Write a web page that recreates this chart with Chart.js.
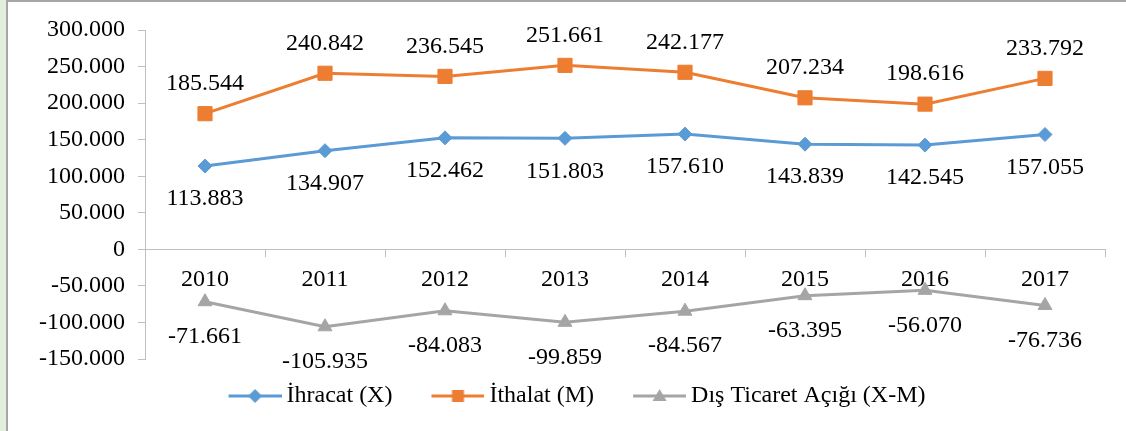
<!DOCTYPE html>
<html>
<head>
<meta charset="utf-8">
<script src="https://cdn.jsdelivr.net/npm/chart.js@4/dist/chart.umd.min.js"></script>
<style>
  html, body { margin: 0; padding: 0; background: #ffffff; }
  #wrap { position: relative; width: 1126px; height: 431px; overflow: hidden; }
  .green { position: absolute; left: 0; top: 0; width: 6px; height: 431px; background: #e2efda; }
  .vline { position: absolute; left: 6px; top: 0; width: 2px; height: 431px; background: #a6a6a6; }
  .hline { position: absolute; left: 6px; top: 0; width: 1120px; height: 2px; background: #a6a6a6; }
  canvas { position: absolute; left: 0; top: 0; }
</style>
</head>
<body>
<div id="wrap">
  <div class="green"></div>
  <div class="vline"></div>
  <div class="hline"></div>
  <canvas id="c" width="1126" height="431"></canvas>
</div>
<script>
const categories = ['2010', '2011', '2012', '2013', '2014', '2015', '2016', '2017'];
const ihracat = [113883, 134907, 152462, 151803, 157610, 143839, 142545, 157055];
const ithalat = [185544, 240842, 236545, 251661, 242177, 207234, 198616, 233792];
const acik = [-71661, -105935, -84083, -99859, -84567, -63395, -56070, -76736];
const seriesNames = ['İhracat (X)', 'İthalat (M)', 'Dış Ticaret Açığı (X-M)'];
const yTicks = [300000, 250000, 200000, 150000, 100000, 50000, 0, -50000, -100000, -150000];

const BLUE = '#5b9bd5', ORANGE = '#ed7d31', GRAY = '#a5a5a5';
const FONT = "'Liberation Serif', 'Times New Roman', serif";

function fmt(v) {
  const neg = v < 0;
  let s = String(Math.abs(Math.round(v)));
  s = s.replace(/\B(?=(\d{3})+(?!\d))/g, '.');
  return (neg ? '-' : '') + s;
}

// legend marker images (line + marker)
function legendImg(color, kind) {
  const W = 89, H = 18;
  const cv = document.createElement('canvas');
  cv.width = W; cv.height = H;
  const g = cv.getContext('2d');
  const x0 = 36, x1 = 89, cy = H / 2, cx = (x0 + x1) / 2;
  g.strokeStyle = color; g.lineWidth = 3;
  g.beginPath(); g.moveTo(x0, cy); g.lineTo(x1, cy); g.stroke();
  g.fillStyle = color;
  g.beginPath();
  if (kind === 'diamond') {
    g.moveTo(cx, cy - 7); g.lineTo(cx + 7, cy); g.lineTo(cx, cy + 7); g.lineTo(cx - 7, cy); g.closePath();
  } else if (kind === 'square') {
    g.rect(cx - 6, cy - 6, 12, 12);
  } else {
    g.moveTo(cx, cy - 7); g.lineTo(cx + 7, cy + 5); g.lineTo(cx - 7, cy + 5); g.closePath();
  }
  g.fill();
  return cv;
}
const legendImgs = [legendImg(BLUE, 'diamond'), legendImg(ORANGE, 'square'), legendImg(GRAY, 'triangle')];

const labelOffsets = [33, -30, 35];

const dataLabels = {
  id: 'dataLabels',
  afterDatasetsDraw(chart) {
    const ctx = chart.ctx;
    ctx.save();
    ctx.font = '24px ' + FONT;
    ctx.fillStyle = '#000000';
    ctx.textAlign = 'center';
    ctx.textBaseline = 'middle';
    chart.data.datasets.forEach((ds, di) => {
      const meta = chart.getDatasetMeta(di);
      meta.data.forEach((pt, i) => {
        ctx.fillText(fmt(ds.data[i]), pt.x, pt.y + labelOffsets[di]);
      });
    });
    ctx.restore();
  }
};

new Chart(document.getElementById('c'), {
  type: 'line',
  data: {
    labels: categories,
    datasets: [
      { label: seriesNames[0], data: ihracat, borderColor: BLUE, backgroundColor: BLUE, borderWidth: 3,
        pointStyle: 'rectRot', pointRadius: 7, pointHoverRadius: 7, pointBorderWidth: 1, tension: 0 },
      { label: seriesNames[1], data: ithalat, borderColor: ORANGE, backgroundColor: ORANGE, borderWidth: 3,
        pointStyle: 'rect', pointRadius: 10, pointHoverRadius: 10, pointBorderWidth: 1, tension: 0 },
      { label: seriesNames[2], data: acik, borderColor: GRAY, backgroundColor: GRAY, borderWidth: 3,
        pointStyle: 'triangle', pointRadius: 8, pointHoverRadius: 8, pointBorderWidth: 1, tension: 0 }
    ]
  },
  options: {
    responsive: false,
    animation: false,
    devicePixelRatio: 1,
    layout: { padding: { left: 20, right: 21, top: 30, bottom: 13 } },
    scales: {
      x: {
        type: 'category',
        position: { y: 0 },
        offset: true,
        grid: { offset: true, drawOnChartArea: false, drawTicks: true, tickLength: 7, color: '#bfbfbf' },
        border: { display: true, color: '#bfbfbf', width: 1 },
        ticks: { font: { family: FONT, size: 24 }, color: '#000000', padding: 9, maxRotation: 0, autoSkip: false }
      },
      y: {
        min: -150000,
        max: 300000,
        afterFit(scale) { scale.width = 125; },
        afterBuildTicks(scale) { scale.ticks = yTicks.map(v => ({ value: v })); },
        grid: { drawOnChartArea: false, drawTicks: true, tickLength: 7, color: '#bfbfbf' },
        border: { display: true, color: '#bfbfbf', width: 1 },
        ticks: { font: { family: FONT, size: 24 }, color: '#000000', padding: 13,
          callback: (v) => fmt(v) }
      }
    },
    plugins: {
      tooltip: { enabled: false },
      legend: {
        position: 'bottom',
        align: 'center',
        title: { display: true, text: ' ', font: { size: 10, lineHeight: 1 }, padding: { top: 5, bottom: 0 } },
        labels: {
          usePointStyle: true,
          pointStyleWidth: 75,
          padding: 10,
          color: '#000000',
          font: { family: FONT, size: 24 },
          generateLabels(chart) {
            const items = Chart.defaults.plugins.legend.labels.generateLabels(chart);
            items.forEach((it, i) => { it.pointStyle = legendImgs[i]; it.rotation = 0; });
            return items;
          }
        }
      }
    }
  },
  plugins: [dataLabels]
});
</script>
</body>
</html>
